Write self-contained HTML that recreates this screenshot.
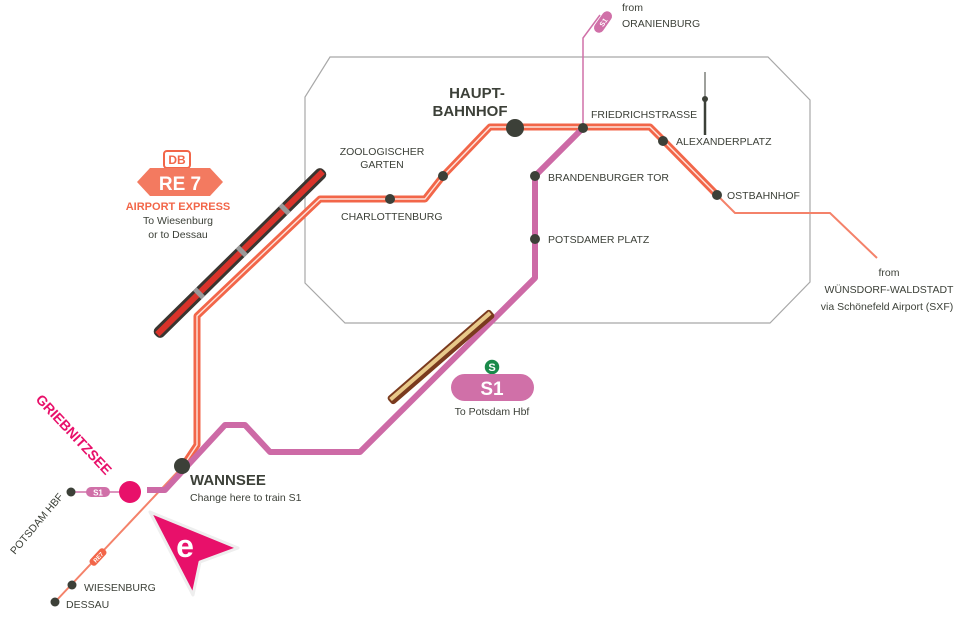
<!DOCTYPE html>
<html><head><meta charset="utf-8"><style>
body{margin:0;background:#fff}
svg{display:block}
text{font-family:"Liberation Sans",sans-serif;fill:#3c4038}
</style></head><body>
<svg width="960" height="630" viewBox="0 0 960 630" xmlns="http://www.w3.org/2000/svg">
<!-- city boundary -->
<polygon points="330,57 768,57 810,100 810,282 770,323 345,323 305,283 305,97" fill="none" stroke="#a8a8a8" stroke-width="1.2"/>
<!-- TV tower -->
<line x1="705" y1="72" x2="705" y2="135" stroke="#3c4038" stroke-width="1"/>
<line x1="705" y1="98" x2="705" y2="135" stroke="#3c4038" stroke-width="2.5"/>
<circle cx="705" cy="99" r="3" fill="#3c4038"/>
<!-- thin orange lines -->
<polyline points="717,195 735,213 830,213 877,258" fill="none" stroke="#f4826a" stroke-width="2"/>
<polyline points="183,466 55,602" fill="none" stroke="#f4826a" stroke-width="2"/>
<!-- thick orange RE7 -->
<polyline points="717,195 663,140 650,127 490,127 443,176 425,199 320,199 197,316 197,445 183,466" fill="none" stroke="#f26649" stroke-width="7" stroke-linejoin="round"/>
<polyline points="717,195 663,140 650,127 490,127 443,176 425,199 320,199 197,316 197,445 183,466" fill="none" stroke="#fde3dc" stroke-width="1.4" stroke-linejoin="round"/>
<!-- pink S1 -->
<polyline points="600,15 583,38 583,128" fill="none" stroke="#d070a8" stroke-width="1.5"/>
<polyline points="583,128 535,176 535,278 360,452 270,452 245,425 225,425 165,490 147,490" fill="none" stroke="#cd6aa6" stroke-width="6" stroke-linejoin="round"/>
<line x1="70" y1="492" x2="130" y2="492" stroke="#d070a8" stroke-width="1.5"/>
<rect x="86" y="487" width="24" height="10" rx="5" fill="#d070a8"/>
<text x="98" y="495.5" font-size="8" font-weight="bold" text-anchor="middle" style="fill:#fff">S1</text>
<g transform="translate(603,22) rotate(-55)"><rect x="-12" y="-5" width="24" height="10" rx="5" fill="#d070a8"/><text x="0" y="3" font-size="7" font-weight="bold" text-anchor="middle" style="fill:#fff">S1</text></g>
<g transform="translate(98,557) rotate(-47)"><rect x="-10" y="-4" width="20" height="8" rx="3" fill="#f26649"/><text x="0" y="2.5" font-size="6" font-weight="bold" text-anchor="middle" style="fill:#fff">RE7</text></g>
<!-- RE7 train -->
<g transform="translate(240,253) rotate(-44.5)">
<rect x="-118" y="-6" width="236" height="12" rx="5" fill="#3a3530"/>
<rect x="-116" y="-3" width="232" height="6" fill="#d9332a"/>
<rect x="-60" y="-6" width="5" height="12" fill="#999"/><rect x="0" y="-6" width="5" height="12" fill="#999"/><rect x="60" y="-6" width="5" height="12" fill="#999"/>
</g>
<!-- S1 train -->
<g transform="translate(441,357) rotate(-41)">
<rect x="-68" y="-5" width="136" height="10" rx="3" fill="#7a3a1e"/>
<rect x="-66" y="-3" width="132" height="4" fill="#e8c98a"/>
</g>
<!-- stations -->
<g fill="#3c4038">
<circle cx="583" cy="128" r="5"/><circle cx="663" cy="141" r="5"/><circle cx="717" cy="195" r="5"/>
<circle cx="535" cy="176" r="5"/><circle cx="535" cy="239" r="5"/><circle cx="443" cy="176" r="5"/>
<circle cx="390" cy="199" r="5"/><circle cx="515" cy="128" r="9"/><circle cx="182" cy="466" r="8"/>
<circle cx="72" cy="585" r="4.5"/><circle cx="55" cy="602" r="4.5"/><circle cx="71" cy="492" r="4.5"/>
</g>
<circle cx="130" cy="492" r="11" fill="#e8106a"/>
<!-- e arrow -->
<polygon points="150,512 238,548 200,562 193,595" fill="#e8106a" stroke="#eee" stroke-width="3" stroke-linejoin="round"/>
<text x="185" y="557" font-size="32" font-weight="bold" text-anchor="middle" style="fill:#fff">e</text>
<!-- labels -->
<text x="477" y="98" font-size="15" font-weight="bold" text-anchor="middle">HAUPT-</text>
<text x="470" y="116" font-size="15" font-weight="bold" text-anchor="middle">BAHNHOF</text>
<text x="591" y="118" font-size="10.5">FRIEDRICHSTRASSE</text>
<text x="676" y="145" font-size="10.5">ALEXANDERPLATZ</text>
<text x="727" y="199" font-size="10.5">OSTBAHNHOF</text>
<text x="548" y="181" font-size="10.5">BRANDENBURGER TOR</text>
<text x="548" y="243" font-size="10.5">POTSDAMER PLATZ</text>
<text x="382" y="155" font-size="10.5" text-anchor="middle">ZOOLOGISCHER</text>
<text x="382" y="168" font-size="10.5" text-anchor="middle">GARTEN</text>
<text x="341" y="220" font-size="10.5">CHARLOTTENBURG</text>
<text x="622" y="11" font-size="10.5">from</text>
<text x="622" y="27" font-size="10.5">ORANIENBURG</text>
<text x="889" y="276" font-size="10.5" text-anchor="middle">from</text>
<text x="889" y="293" font-size="10.5" text-anchor="middle">WÜNSDORF-WALDSTADT</text>
<text x="887" y="310" font-size="10.5" text-anchor="middle">via Schönefeld Airport (SXF)</text>
<text x="190" y="485" font-size="15" font-weight="bold">WANNSEE</text>
<text x="190" y="501" font-size="10.5">Change here to train S1</text>
<text x="84" y="591" font-size="10.5">WIESENBURG</text>
<text x="66" y="608" font-size="10.5">DESSAU</text>
<text transform="translate(15,555) rotate(-50)" font-size="10.5">POTSDAM HBF</text>
<text transform="translate(35,400) rotate(47)" font-size="14" font-weight="bold" style="fill:#e8106a">GRIEBNITZSEE</text>
<!-- RE7 badge -->
<rect x="164" y="151" width="26" height="17" rx="3" fill="#fff" stroke="#f26649" stroke-width="2"/>
<text x="177" y="164" font-size="12" font-weight="bold" text-anchor="middle" style="fill:#f26649">DB</text>
<polygon points="137,182 150,168 210,168 223,182 210,196 150,196" fill="#f37a60"/>
<text x="180" y="190" font-size="19" font-weight="bold" text-anchor="middle" style="fill:#fff">RE 7</text>
<text x="178" y="210" font-size="11" font-weight="bold" text-anchor="middle" style="fill:#f26649">AIRPORT EXPRESS</text>
<text x="178" y="224" font-size="10.5" text-anchor="middle">To Wiesenburg</text>
<text x="178" y="238" font-size="10.5" text-anchor="middle">or to Dessau</text>
<!-- S1 badge -->
<circle cx="492" cy="367" r="8" fill="#1a8a4a" stroke="#fff" stroke-width="1.5"/>
<text x="492" y="371" font-size="11" font-weight="bold" text-anchor="middle" style="fill:#fff">S</text>
<rect x="451" y="374" width="83" height="27" rx="13.5" fill="#d070a8"/>
<text x="492" y="395" font-size="19" font-weight="bold" text-anchor="middle" style="fill:#fff">S1</text>
<text x="492" y="415" font-size="10.5" text-anchor="middle">To Potsdam Hbf</text>
</svg>
</body></html>
